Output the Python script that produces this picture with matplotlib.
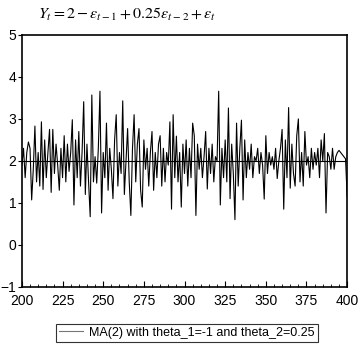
import numpy as np
import matplotlib
matplotlib.use("Agg")
import matplotlib.pyplot as plt
from matplotlib.ticker import MultipleLocator

plt.rcParams['font.family'] = ['Liberation Sans', 'DejaVu Sans']
plt.rcParams['mathtext.fontset'] = 'stix'

# simulated MA(2) series (t = 200..400)
t = np.arange(200, 401)
y = [
    1.9, 2.3, 1.6, 2.2, 2.45, 2.3, 1.07, 1.8, 2.83, 1.5,
    2.2, 1.4, 2.93, 1.32, 2.5, 1.6, 2.2, 2.75, 1.25, 2.75,
    1.7, 2.4, 1.9, 1.3, 2.3, 1.6, 2.6, 1.5, 2.4, 1.75,
    2.2, 2.98, 0.95, 2.5, 1.6, 2.7, 1.4, 2.2, 3.41, 1.2,
    2.4, 1.5, 0.67, 3.57, 1.5, 2.1, 1.47, 2.3, 3.66, 0.76,
    2.2, 1.6, 2.9, 1.3, 2.3, 1.8, 1.1, 2.5, 3.1, 1.4,
    2.2, 1.7, 3.43, 1.2, 2.0, 2.77, 1.5, 0.7, 2.3, 3.1,
    1.5, 2.4, 2.77, 1.3, 0.9, 2.5, 1.8, 2.3, 1.4, 2.2,
    2.7, 1.3, 2.2, 1.6, 2.4, 2.6, 1.4, 2.3, 1.5, 2.2,
    1.9, 2.93, 0.85, 3.1, 1.6, 2.59, 1.5, 2.2, 0.9, 2.4,
    1.7, 2.5, 1.4, 2.3, 1.6, 2.9, 2.6, 0.7, 2.4, 1.8,
    2.3, 1.6, 2.1, 2.7, 1.33, 2.3, 1.7, 2.4, 1.5, 2.1,
    2.0, 3.66, 0.95, 2.3, 1.6, 2.5, 1.5, 3.26, 1.1, 2.4,
    1.7, 0.6, 2.9, 1.4, 2.3, 2.97, 1.07, 2.5, 1.6, 2.2,
    1.8, 2.4, 1.6, 2.1, 2.0, 2.3, 1.7, 2.2, 1.9, 1.09,
    2.6, 1.7, 2.2, 1.9, 2.1, 1.8, 2.3, 1.58, 2.0, 2.3,
    2.75, 0.85, 2.5, 1.6, 3.27, 1.35, 2.4, 1.7, 1.4, 2.6,
    3.0, 1.5, 2.2, 1.4, 2.7, 1.9, 2.1, 1.6, 2.3, 1.8,
    2.2, 1.9, 2.3, 1.6, 2.5, 2.0, 2.65, 0.76, 2.2, 2.1,
    1.8, 2.3, 1.8, 2.1, 2.2, 2.25, 2.2, 2.15, 2.1, 2.05,
    1.15,
]
mean_level = 2
label = 'MA(2) with theta_1=-1 and theta_2=0.25'

fig = plt.figure(figsize=(3.59, 3.46), dpi=100)
ax = fig.add_axes([0.061, 0.171, 0.906, 0.728])

line, = ax.plot(t, y, color='black', linewidth=0.8, label=label)
ax.axhline(mean_level, color='black', linewidth=0.8)

ax.set_xlim(200, 400)
ax.set_ylim(-1, 5)
ax.xaxis.set_major_locator(MultipleLocator(25))
ax.xaxis.set_minor_locator(MultipleLocator(5))
ax.yaxis.set_major_locator(MultipleLocator(1))
ax.tick_params(axis='x', which='major', direction='in', length=4, labelsize=10, pad=5)
ax.tick_params(axis='x', which='minor', direction='in', length=2)
ax.tick_params(axis='y', direction='out', length=3, labelsize=10, pad=1)
for s in ax.spines.values():
    s.set_linewidth(1.2)

fig.text(0.105, 0.957, r'$Y_t = 2 - \varepsilon_{t-1} + 0.25\varepsilon_{t-2} + \varepsilon_t$',
         fontsize=11.5, ha='left', va='center')

leg = fig.legend(handles=[line], loc='center', bbox_to_anchor=(0.52, 0.038),
                 fancybox=False, edgecolor='#333333', framealpha=1, fontsize=9,
                 borderpad=0.25, handlelength=1.9, handletextpad=0.5)
leg.get_frame().set_linewidth(0.8)
leg.get_lines()[0].set_color('#777777')

fig.savefig('out.png', dpi=100)
